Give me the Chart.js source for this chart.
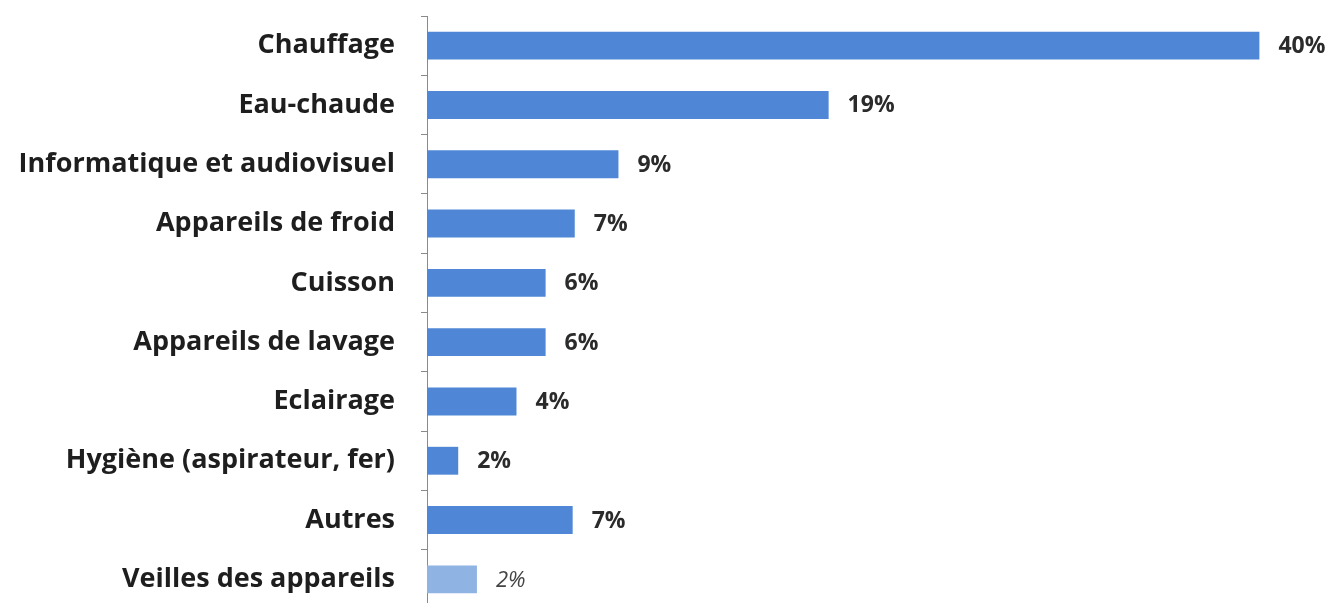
<!DOCTYPE html>
<html>
<head>
<meta charset="utf-8">
<script src="https://cdn.jsdelivr.net/npm/chart.js@4"></script>
<style>
  html, body { margin: 0; padding: 0; background: #fff; overflow: hidden; }
  canvas { display: block; }
</style>
</head>
<body>
<canvas id="chart" width="1333" height="612"></canvas>
<script>
const categories = [
  "Chauffage",
  "Eau-chaude",
  "Informatique et audiovisuel",
  "Appareils de froid",
  "Cuisson",
  "Appareils de lavage",
  "Eclairage",
  "Hygiène (aspirateur, fer)",
  "Autres",
  "Veilles des appareils",
];
// bar lengths (%)
const shares = [40, 19.3, 9.2, 7.1, 5.7, 5.7, 4.3, 1.5, 7.0, 2.4];
// labels printed next to the bars
const shareLabels = ["40%", "19%", "9%", "7%", "6%", "6%", "4%", "2%", "7%", "2%"];
const barColors = [
  "#4f87d6", "#4f87d6", "#4f87d6", "#4f87d6", "#4f87d6",
  "#4f87d6", "#4f87d6", "#4f87d6", "#4f87d6", "#8fb4e3",
];

// draw the percentage next to the end of each bar
const valueLabels = {
  id: "valueLabels",
  afterDatasetsDraw(chart) {
    const ctx = chart.ctx;
    const meta = chart.getDatasetMeta(0);
    ctx.save();
    ctx.textBaseline = "middle";
    ctx.textAlign = "left";
    meta.data.forEach((bar, i) => {
      const last = i === meta.data.length - 1;
      ctx.font = last ? "italic 22px 'Open Sans'" : "bold 23px 'Open Sans'";
      ctx.fillStyle = last ? "#444" : "#2b2b2b";
      ctx.fillText(shareLabels[i], bar.x + 19, bar.y + 1);
    });
    ctx.restore();
  },
};

const ctx = document.getElementById("chart").getContext("2d");
new Chart(ctx, {
  type: "bar",
  data: {
    labels: categories,
    datasets: [
      {
        data: shares,
        backgroundColor: barColors,
        borderWidth: 0,
        categoryPercentage: 1,
        barPercentage: 0.47,
      },
    ],
  },
  options: {
    indexAxis: "y",
    responsive: false,
    animation: false,
    layout: {
      padding: { top: 16, right: 32, bottom: 3, left: 0 },
    },
    scales: {
      x: {
        display: false,
        min: 0,
        max: 42,
      },
      y: {
        afterFit(scale) {
          scale.width = 427;
          scale.paddingTop = 0;
          scale.paddingBottom = 0;
        },
        grid: {
          offset: true,
          drawOnChartArea: false,
          color: "#8a8a8a",
          tickLength: 6,
        },
        border: {
          color: "#8a8a8a",
          width: 1,
        },
        ticks: {
          color: "#1e1e1e",
          padding: 26,
          font: {
            family: "'Open Sans'",
            size: 27,
            weight: "bold",
          },
        },
      },
    },
    plugins: {
      legend: { display: false },
      tooltip: { enabled: false },
    },
  },
  plugins: [valueLabels],
});
</script>
</body>
</html>
